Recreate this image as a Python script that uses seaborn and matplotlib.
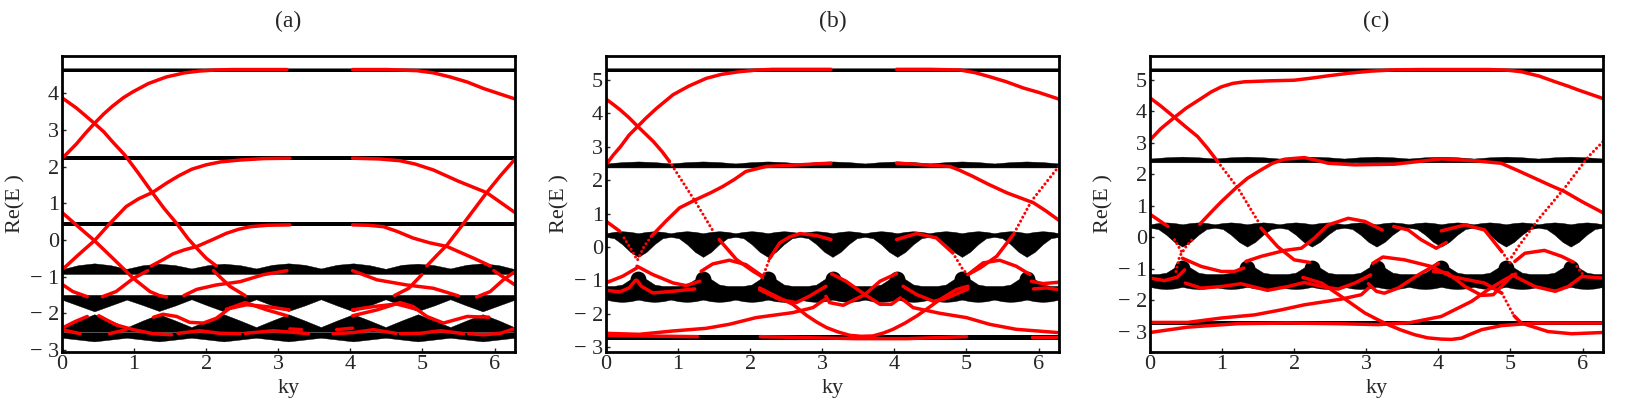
# band structure panels
import numpy as np
import seaborn as sns
import matplotlib
matplotlib.use('Agg')
import matplotlib.pyplot as plt

sns.set_style('white')
plt.rcParams['font.family'] = ['Liberation Serif', 'DejaVu Serif']
plt.rcParams['axes.linewidth'] = 2.0

W, H = 1628, 407
KY_MAX = 6.283
KY_COARSE = np.linspace(0, KY_MAX, 29)
KY_FINE = np.linspace(0, KY_MAX, 57)

TITLES = ['(a)', '(b)', '(c)']
X_TICKS = [0, 1, 2, 3, 4, 5, 6]
A_Y_TICKS = [-3, -2, -1, 0, 1, 2, 3, 4]
BC_Y_TICKS = [-3, -2, -1, 0, 1, 2, 3, 4, 5]
A_YLIM = (-3.06, 5.02)
B_YLIM = (-3.15, 5.72)
C_YLIM = (-3.65, 5.76)

# flat black bands (low, high) and the thin dotted rows
A_FLAT = [(4.58, 4.66), (2.18, 2.28), (0.39, 0.5)]
A_DOTS = [4.70]
B_FLAT = [(5.25, 5.35), (-2.78, -2.63)]
B_DOTS = [5.37]
C_FLAT = [(5.25, 5.35), (-2.78, -2.65)]
C_DOTS = [5.37]

# round caps of the lower band in b and c
BUMP_KY = [.449, 1.347, 2.244, 3.142, 4.04, 4.937, 5.834]
BUMP_E = [-.97, -.97, -.97, -.97, -.97, -.97, -.97]

# panel a wavy bands, on KY_COARSE
a_b4_top = [-.80, -.69, -.64, -.69, -.79, -.69, -.65, -.69, -.78, -.69, -.65, -.69, -.78, -.68, -.64,
            -.68, -.78, -.68, -.64, -.69, -.79, -.68, -.65, -.69, -.78, -.68, -.64, -.69, -.80]
a_b4_bot = [-.93] * 29
a_b5_top = [-1.5] * 29
a_b5_bot = [-1.63, -1.79, -1.95, -1.79, -1.63, -1.78, -1.94, -1.79, -1.62, -1.79, -1.95, -1.79, -1.62, -1.79, -1.94,
            -1.79, -1.62, -1.79, -1.95, -1.79, -1.62, -1.79, -1.94, -1.79, -1.62, -1.79, -1.95, -1.79, -1.63]
a_b6_top = [-2.39, -2.2, -2.03, -2.2, -2.39, -2.2, -2.03, -2.2, -2.38, -2.2, -2.03, -2.2, -2.38, -2.2, -2.03,
            -2.2, -2.38, -2.2, -2.03, -2.2, -2.38, -2.2, -2.03, -2.2, -2.38, -2.2, -2.03, -2.2, -2.39]
a_b6_bot = [-2.5] * 29
a_b7_top = [-2.52] * 29
a_b7_bot = [-2.67, -2.72, -2.77, -2.72, -2.67, -2.72, -2.77, -2.72, -2.67, -2.72, -2.77, -2.72, -2.67, -2.72, -2.77,
            -2.72, -2.67, -2.72, -2.77, -2.72, -2.67, -2.72, -2.77, -2.72, -2.67, -2.72, -2.77, -2.72, -2.67]

# panels b and c share these bands
bc_b2_top = [2.5, 2.54, 2.56, 2.54, 2.5, 2.54, 2.56, 2.54, 2.5, 2.54, 2.56, 2.54, 2.5, 2.54, 2.56,
             2.54, 2.5, 2.54, 2.56, 2.54, 2.5, 2.54, 2.56, 2.54, 2.5, 2.54, 2.56, 2.54, 2.5]
bc_b2_bot = [2.38] * 29
# on KY_FINE
bc_mid_top = [.41, .45, .47, .45, .41, .45, .47, .45, .41, .45, .47, .45, .41, .45, .47, .45,
              .41, .45, .47, .45, .41, .45, .47, .45, .41, .45, .47, .45, .41, .45, .47, .45,
              .41, .45, .47, .45, .41, .45, .47, .45, .41, .45, .47, .45, .41, .45, .47, .45,
              .41, .45, .47, .45, .41, .45, .47, .45, .41]
bc_mid_bot = [.30, .26, .08, -.15, -.30, -.15, .08, .26, .30, .26, .08, -.15, -.30, -.15, .08, .26,
              .30, .26, .08, -.15, -.30, -.15, .08, .26, .30, .26, .08, -.15, -.30, -.15, .08, .26,
              .30, .26, .08, -.15, -.30, -.15, .08, .26, .30, .26, .08, -.15, -.30, -.15, .08, .26,
              .30, .26, .08, -.15, -.30, -.15, .08, .26, .30]
bc_low_top = [-1.17, -1.17, -1.13, -.97, -.9, -.97, -1.13, -1.17, -1.17, -1.17, -1.13, -.97, -.9, -.97, -1.13, -1.17,
              -1.17, -1.17, -1.13, -.97, -.9, -.97, -1.13, -1.17, -1.17, -1.17, -1.13, -.97, -.9, -.97, -1.13, -1.17,
              -1.17, -1.17, -1.13, -.97, -.9, -.97, -1.13, -1.17, -1.17, -1.17, -1.13, -.97, -.9, -.97, -1.13, -1.17,
              -1.17, -1.17, -1.13, -.97, -.9, -.97, -1.13, -1.17, -1.17]
bc_low_bot = [-1.58, -1.63, -1.65, -1.63, -1.58, -1.63, -1.65, -1.63, -1.58, -1.63, -1.65, -1.63, -1.58, -1.63, -1.65, -1.63,
              -1.58, -1.63, -1.65, -1.63, -1.58, -1.63, -1.65, -1.63, -1.58, -1.63, -1.65, -1.63, -1.58, -1.63, -1.65, -1.63,
              -1.58, -1.63, -1.65, -1.63, -1.58, -1.63, -1.65, -1.63, -1.58, -1.63, -1.65, -1.63, -1.58, -1.63, -1.65, -1.63,
              -1.58, -1.63, -1.65, -1.63, -1.58, -1.63, -1.65, -1.63, -1.58]

# red edge states, panel a (ky, E)
a1 = ([0, .1, .2, .32, .45, .58, .7, .85, .99, 1.2, 1.45, 1.7, 1.91, 2.15, 2.37, 2.7, 3.12],
      [2.22, 2.42, 2.62, 2.9, 3.18, 3.44, 3.65, 3.88, 4.05, 4.27, 4.45, 4.56, 4.61, 4.64, 4.65, 4.65, 4.65])
a2 = ([4.03, 4.5, 4.92, 5.15, 5.38, 5.62, 5.85, 6.08, 6.28], [4.65, 4.65, 4.62, 4.56, 4.45, 4.31, 4.13, 3.98, 3.85])
a3 = ([0, .1, .2, .32, .45, .58, .7, .87, 1.06, 1.26, 1.42, 1.59, 1.75, 1.87, 2.0, 2.14],
      [3.88, 3.74, 3.6, 3.4, 3.18, 2.95, 2.68, 2.32, 1.82, 1.27, .85, .45, .03, -.23, -.5, -.71])
a4 = ([2.1, 2.33, 2.54], [-.84, -1.27, -1.52])
a5 = ([4.61, 4.81, 4.99], [-1.52, -1.32, -.95])
a6 = ([5.06, 5.2, 5.34, 5.57, 5.73, 5.89, 6.08, 6.28], [-.71, -.42, -.14, .45, .87, 1.29, 1.75, 2.2])
a7 = ([0, .22, .45, .72, .99, 1.22, 1.35, 1.45], [.75, .37, -.02, -.53, -1.05, -1.41, -1.52, -1.56])
a8 = ([0, .22, .45, .66, .89, 1.06, 1.26, 1.45, 1.62, 1.8, 2.0, 2.2, 2.47, 2.8, 3.16],
      [-.82, -.42, -.02, .44, .91, 1.12, 1.3, 1.55, 1.75, 1.93, 2.05, 2.13, 2.18, 2.22, 2.23])
a9 = ([4.03, 4.4, 4.69, 4.9, 5.15, 5.5, 5.89, 6.1, 6.28], [2.23, 2.21, 2.16, 2.07, 1.91, 1.6, 1.29, 1.0, .75])
a10 = ([1.24, 1.4, 1.54, 1.7, 1.87, 2.08, 2.28, 2.45, 2.61, 2.85, 3.16], [-.71, -.54, -.38, -.27, -.18, 0, .18, .29, .36, .4, .41])
a11 = ([4.03, 4.25, 4.46, 4.65, 4.87, 5.1, 5.34, 5.5, 5.71, 5.94], [.41, .4, .36, .23, .05, -.08, -.18, -.32, -.5, -.71])
a12 = ([5.99, 6.26, 6.28], [-.84, -1.2, -1.22])
a13 = ([0, .15, .35], [-1.21, -1.41, -1.55])
a14 = ([.56, .75, .99, 1.19], [-1.55, -1.41, -1.05, -.84])
a15 = ([1.69, 1.87, 2.14, 2.47, 2.79, 3.12], [-1.52, -1.35, -1.23, -1.14, -.95, -.84])
a16 = ([4.03, 4.37, 4.78, 5.15, 5.5], [-.84, -1.09, -1.23, -1.32, -1.53])
a17 = ([5.75, 5.94, 6.12, 6.28], [-1.56, -1.41, -1.09, -.87])
a18 = ([0, .18, .35], [-2.41, -2.23, -2.09])
a19 = ([.51, .75, .99, 1.26, 1.52], [-2.07, -2.32, -2.45, -2.56, -2.59])
a20 = ([0, .25], [-2.45, -2.56])
a21 = ([.66, .89], [-2.56, -2.45])
a22 = ([1.27, 1.4, 1.59, 1.77, 1.96, 2.14, 2.33, 2.54, 2.84, 3.12], [-2.11, -2.03, -2.09, -2.25, -2.27, -2.14, -1.86, -1.71, -1.91, -2.07])
a23 = ([2.28, 2.56, 2.84, 3.15], [-1.89, -1.77, -1.82, -1.91])
a24 = ([1.61, 1.91, 2.19, 2.47], [-2.55, -2.48, -2.55, -2.56])
a25 = ([2.54, 2.93, 3.25, 3.42], [-2.55, -2.48, -2.53, -2.56])
a26 = ([3.16, 3.32], [-2.43, -2.45])
a27 = ([4.03, 4.32, 4.64, 4.92], [-1.91, -1.82, -1.75, -1.89])
a28 = ([4.03, 4.37, 4.69, 4.87, 5.06, 5.29, 5.62, 5.92], [-2.07, -1.91, -1.71, -1.82, -2.09, -2.27, -2.09, -2.11])
a29 = ([3.76, 4.04, 4.32, 4.63], [-2.56, -2.53, -2.45, -2.55])
a30 = ([4.69, 4.97, 5.25, 5.57], [-2.56, -2.55, -2.48, -2.56])
a31 = ([5.64, 5.85, 6.08, 6.28], [-2.56, -2.59, -2.55, -2.42])
a32 = ([3.81, 4.03], [-2.45, -2.41])
RED_A = [a1, a2, a3, a4, a5, a6, a7, a8, a9, a10, a11, a12, a13, a14, a15, a16,
         a17, a18, a19, a20, a21, a22, a23, a24, a25, a26, a27, a28, a29, a30, a31, a32]
DOT_A = []

# panel b
b1 = ([0, .1, .2, .32, .44, .55, .7, .93, 1.15, 1.39, 1.6, 1.85, 2.1, 2.31, 2.7, 3.12],
      [2.46, 2.75, 3.0, 3.35, 3.61, 3.85, 4.15, 4.56, 4.82, 5.05, 5.17, 5.25, 5.3, 5.32, 5.32, 5.32])
b2 = ([4.03, 4.5, 4.91, 5.12, 5.32, 5.55, 5.79, 6.0, 6.28], [5.32, 5.32, 5.3, 5.22, 5.1, 4.95, 4.76, 4.63, 4.43])
b3 = ([0, .1, .2, .32, .44, .55, .66, .78, .88], [4.43, 4.27, 4.1, 3.87, 3.61, 3.38, 3.15, 2.85, 2.56])
b4 = ([1.57, 1.81, 2.04, 2.17], [.22, -.38, -.73, -.9])
b5 = ([5.65, 5.42, 5.19, 5.02], [.37, -.28, -.63, -.83])
b6 = ([0, .19], [.77, .47])
b7 = ([.43, .65, .93, 1.11, 1.3], [-.58, -.83, -1.08, -1.16, -1.03])
b8 = ([0, .23, .43], [-1.08, -.88, -.63])
b9 = ([.63, .83, 1.02, 1.25, 1.45, 1.62, 1.78, 1.94, 2.22, 2.69, 3.12], [.32, .77, 1.17, 1.42, 1.62, 1.81, 2.02, 2.26, 2.41, 2.46, 2.51])
b10 = ([4.03, 4.4, 4.77, 4.9, 5.09, 5.3, 5.56, 5.93, 6.1, 6.28], [2.51, 2.46, 2.41, 2.3, 2.11, 1.88, 1.62, 1.32, 1.08, .8])
b11 = ([1.32, 1.48, 1.71, 1.94, 2.17], [-.73, -.51, -.4, -.53, -.88])
b12 = ([2.27, 2.41, 2.55, 2.69, 2.92, 3.12], [-.35, .12, .3, .4, .34, .22])
b13 = ([4.03, 4.31, 4.58, 4.81], [.22, .4, .27, -.18])
b14 = ([5.02, 5.23, 5.46, 5.69, 5.88], [-.83, -.48, -.4, -.58, -.83])
b15 = ([5.9, 6.06, 6.28], [-1.03, -1.1, -1.06])
b16 = ([5.93, 6.11, 6.28], [-1.26, -1.23, -1.28])
b17 = ([0, .19, .32, .41], [-1.3, -1.35, -1.23, -1.0])
b18 = ([.43, .49, .65, .93, 1.23], [-1.0, -1.18, -1.38, -1.33, -1.26])
b19 = ([2.13, 2.31, 2.59, 2.78, 2.92, 3.06, 3.22, 3.38, 3.54, 3.7, 3.85, 3.98, 4.15, 4.31, 4.47, 4.63, 4.86, 5.02],
       [-1.23, -1.43, -1.72, -2.05, -2.25, -2.42, -2.55, -2.65, -2.68, -2.67, -2.58, -2.47, -2.28, -2.07, -1.83, -1.58, -1.28, -1.18])
b20 = ([2.13, 2.41, 2.64, 2.82, 3.05], [-1.28, -1.58, -1.67, -1.48, -1.18])
b21 = ([4.12, 4.31, 4.54, 4.7, 5.02], [-1.18, -1.43, -1.63, -1.56, -1.26])
b22 = ([3.13, 3.33, 3.59, 3.8, 3.96, 4.08], [-.81, -1.03, -1.43, -1.72, -1.72, -1.53])
b23 = ([3.05, 3.1, 3.29, 3.59, 3.8, 4.03], [-1.48, -1.67, -1.75, -1.43, -1.03, -.8])
b24 = ([0, .46, .93, 1.39, 1.71, 2.08, 2.59, 2.87, 3.03], [-2.59, -2.62, -2.52, -2.44, -2.32, -2.12, -1.97, -1.82, -1.58])
b25 = ([4.12, 4.26, 4.63, 5.0, 5.32, 5.69, 6.28], [-1.58, -1.82, -1.99, -2.12, -2.32, -2.47, -2.57])
b26 = ([0, .46, 1.27], [-2.65, -2.67, -2.69])
b27 = ([2.14, 2.78, 3.47, 4.17, 5.0], [-2.69, -2.72, -2.75, -2.75, -2.69])
b28 = ([5.91, 6.28], [-2.69, -2.69])
RED_B = [b1, b2, b3, b4, b5, b6, b7, b8, b9, b10, b11, b12, b13, b14, b15, b16, b17,
         b18, b19, b20, b21, b22, b23, b24, b25, b26, b27, b28]
bd1 = ([.88, 1.25, 1.5], [2.56, 1.32, .42])
bd2 = ([6.28, 5.9, 5.65], [2.41, 1.37, .37])
bd3 = ([.25, .35, .43], [.27, -.08, -.38])
bd4 = ([.44, .53, .63], [-.38, .02, .32])
bd5 = ([2.17, 2.27], [-.93, -.35])
bd6 = ([4.81, 4.95, 5.02], [-.18, -.68, -.83])
DOT_B = [bd1, bd2, bd3, bd4, bd5, bd6]

# panel c
c1 = ([0, .15, .34, .5, .71, .85, .99, 1.15, 1.31, 1.65, 2.0, 2.25, 2.47, 2.75, 3.07, 3.4, 3.76, 4.69, 4.95, 5.15, 5.4, 5.62, 5.8, 5.94, 6.28],
      [3.09, 3.45, 3.81, 4.1, 4.41, 4.62, 4.78, 4.89, 4.94, 4.97, 4.99, 5.06, 5.13, 5.21, 5.28, 5.32, 5.33, 5.33, 5.31, 5.26, 5.12, 4.94, 4.8, 4.68, 4.41])
c2 = ([0, .15, .34, .5, .66, .8, .94], [4.43, 4.17, 3.81, 3.5, 3.2, 2.82, 2.4])
c3 = ([1.54, 1.77, 2.0, 2.21], [.29, -.3, -.72, -.8])
c4 = ([0, .25], [.73, .34])
c5 = ([.69, .85, .99, 1.19, 1.35, 1.54, 1.7, 1.87, 2.14, 2.3, 2.47, 2.84, 3.39, 3.7, 4.04, 4.5, 4.87, 5.1, 5.34, 5.55, 5.75, 6.0, 6.28],
      [.41, .8, 1.13, 1.56, 1.87, 2.14, 2.35, 2.48, 2.53, 2.45, 2.35, 2.3, 2.32, 2.4, 2.49, 2.43, 2.35, 2.12, 1.87, 1.65, 1.45, 1.12, .78])
c6 = ([.45, .71, .99, 1.17, 1.3], [-.67, -.93, -1.09, -1.09, -.98])
c7 = ([1.33, 1.54, 1.87, 2.1, 2.28, 2.47, 2.75, 2.98, 3.22], [-.77, -.61, -.42, -.35, -.03, .39, .6, .5, .23])
c8 = ([3.38, 3.58, 3.76, 3.97, 4.11], [.34, .23, -.08, -.35, -.17])
c9 = ([4.04, 4.37, 4.64, 4.88], [.2, .39, .23, -.46])
c10 = ([5.06, 5.2, 5.47, 5.71, 5.87], [-.77, -.51, -.42, -.61, -.79])
c11 = ([5.02, 5.34, 5.62, 5.8, 5.99, 6.28], [-1.2, -1.57, -1.72, -1.57, -1.25, -1.3])
c12 = ([0, .2, .38, .48], [-1.3, -1.38, -1.27, -1.04])
c13 = ([.49, .71, .99, 1.26, 1.63, 1.91, 2.14, 2.38, 2.61, 2.84, 3.06], [-1.46, -1.62, -1.57, -1.48, -1.69, -1.57, -1.44, -1.57, -1.65, -1.46, -1.2])
c14 = ([2.12, 2.38, 2.65, 2.98, 3.14, 3.3, 3.48, 3.67, 3.85, 4.04, 4.18, 4.32, 4.45, 4.6, 4.88, 5.34, 6.28],
       [-1.28, -1.46, -1.88, -2.41, -2.6, -2.78, -2.95, -3.1, -3.2, -3.24, -3.25, -3.21, -3.08, -2.94, -2.81, -2.73, -2.73])
c15 = ([0, .52, 1.22, 1.91, 2.61, 3.16, 3.6, 4.04, 4.46, 4.69, 4.92, 5.07], [-3.03, -2.86, -2.75, -2.73, -2.75, -2.78, -2.72, -2.52, -2.04, -1.67, -1.35, -1.17])
c16 = ([5.05, 5.15, 5.52, 5.85, 6.28], [-2.5, -2.73, -3.0, -3.07, -3.03])
c17 = ([0, .52, .99, 1.45, 1.82, 2.14, 2.65, 2.93, 3.03], [-2.71, -2.71, -2.57, -2.47, -2.31, -2.15, -1.97, -1.83, -1.62])
c18 = ([3.03, 3.14, 3.25, 3.44, 3.72, 4.0], [-1.48, -1.72, -1.78, -1.62, -1.2, -.83])
c19 = ([3.09, 3.23, 3.53, 3.9, 4.18, 4.64, 4.88], [-.83, -.63, -.72, -.93, -1.25, -1.46, -1.78])
c20 = ([3.93, 4.13, 4.37, 4.6, 4.76, 4.92, 5.03], [-1.09, -1.14, -1.57, -1.85, -1.83, -1.46, -1.2])
RED_C = [c1, c2, c3, c4, c5, c6, c7, c8, c9, c10, c11, c12, c13, c14, c15, c16, c17, c18, c19, c20]
cd1 = ([.94, 1.22, 1.5], [2.4, 1.56, .5])
cd2 = ([.34, .45], [-.08, -.51])
cd3 = ([6.28, 6.08, 5.75, 5.38, 5.11, 4.99], [3.03, 2.56, 1.56, .55, -.3, -.72])
cd4 = ([.36, .41, .5, .61], [-1.09, -.61, -.3, 0])
cd5 = ([4.88, 5.0], [-.46, -.83])
cd6 = ([5.92, 6.01], [-.93, -1.2])
cd7 = ([4.88, 4.99, 5.05], [-1.78, -2.25, -2.5])
DOT_C = [cd1, cd2, cd3, cd4, cd5, cd6, cd7]

A_WAVY = [(KY_COARSE, a_b4_top, a_b4_bot), (KY_COARSE, a_b5_top, a_b5_bot), (KY_COARSE, a_b6_top, a_b6_bot), (KY_COARSE, a_b7_top, a_b7_bot)]
BC_WAVY = [(KY_COARSE, bc_b2_top, bc_b2_bot), (KY_FINE, bc_mid_top, bc_mid_bot), (KY_FINE, bc_low_top, bc_low_bot)]


def draw_panel(left, title, ylim, yticks, flat, dots, wavy, red, dotted, caps=False):
    ax = fig.add_axes([left / W, 1 - 352 / H, 453 / W, 296 / H])
    for lo, hi in flat:
        ax.axhspan(lo, hi, color='black', lw=0)
    for val in dots:
        ax.axhline(val, color='#777777', lw=0.7)
    for xs, top, bot in wavy:
        ax.fill_between(xs, top, bot, color='black', lw=0.3)
    if caps:
        sns.scatterplot(x=BUMP_KY, y=BUMP_E, ax=ax, color='black', s=130, linewidth=0, legend=False)
    for xs, ys in red:
        sns.lineplot(x=xs, y=ys, ax=ax, color='red', lw=2.5, sort=False, estimator=None, solid_capstyle='round')
    for xs, ys in dotted:
        sns.lineplot(x=xs, y=ys, ax=ax, color='red', lw=2.2, sort=False, estimator=None,
                     linestyle=(0, (0.01, 1.45)), dash_capstyle='round')
    ax.set_xlim(0, KY_MAX)
    ax.set_ylim(*ylim)
    ax.set_xticks(X_TICKS)
    ax.set_yticks(yticks)
    ax.set_yticklabels([f'\u2212 {-t}' if t < 0 else str(t) for t in yticks])
    ax.tick_params(direction='in', length=3, width=1.0, labelsize=16, pad=2, bottom=True, left=True)
    ax.set_xlabel('ky', fontsize=16)
    ax.set_ylabel('Re(E )', fontsize=16)
    ax.xaxis.set_label_coords(0.5, -0.09)
    ax.yaxis.set_label_coords(-0.08, 0.5)
    ax.set_title(title, fontsize=17, pad=21)
    for s in ax.spines.values():
        s.set_color('black')
    return ax


fig = plt.figure(figsize=(W / 100, H / 100), dpi=100)
draw_panel(62, TITLES[0], A_YLIM, A_Y_TICKS, A_FLAT, A_DOTS, A_WAVY, RED_A, DOT_A)
draw_panel(606, TITLES[1], B_YLIM, BC_Y_TICKS, B_FLAT, B_DOTS, BC_WAVY, RED_B, DOT_B, caps=True)
draw_panel(1150, TITLES[2], C_YLIM, BC_Y_TICKS, C_FLAT, C_DOTS, BC_WAVY, RED_C, DOT_C, caps=True)
fig.savefig('out.png', dpi=100)
